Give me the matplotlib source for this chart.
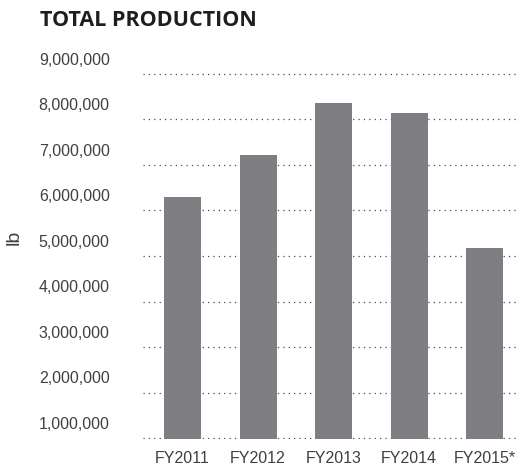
import matplotlib
matplotlib.use("Agg")
import matplotlib.pyplot as plt

categories = ["FY2011", "FY2012", "FY2013", "FY2014", "FY2015*"]
values = [5970000, 6890000, 8030000, 7810000, 4850000]
tick_values = [1000000, 2000000, 3000000, 4000000, 5000000,
               6000000, 7000000, 8000000, 9000000]
tick_labels = ["1,000,000", "2,000,000", "3,000,000", "4,000,000", "5,000,000",
               "6,000,000", "7,000,000", "8,000,000", "9,000,000"]

BAR_COLOR = "#7f7f83"
TEXT_COLOR = "#404040"
GRID_OFFSET = 330000  # gridlines sit slightly below the label positions

W, H = 520, 467
fig = plt.figure(figsize=(W / 100, H / 100), dpi=100)

ymin, ymax = 650000, 9150000
px_per_unit = 45.5 / 1e6
ax_bottom_px = 438 + (670000 - ymin) * px_per_unit
ax_top_px = ax_bottom_px - (ymax - ymin) * px_per_unit
ax = fig.add_axes([143 / W, (H - ax_bottom_px) / H, (517 - 143) / W,
                   (ax_bottom_px - ax_top_px) / H])

x = list(range(len(categories)))
for t in tick_values:
    ax.axhline(t - GRID_OFFSET, color="#4a4a4a", lw=0.9,
               dashes=(1, 3.3), zorder=1)
ax.bar(x, values, width=0.49, color=BAR_COLOR, zorder=2)

ax.set_xlim(-0.523, 4.43)
ax.set_ylim(ymin, ymax)
ax.set_yticks(tick_values)
ax.set_yticklabels(tick_labels)
ax.set_xticks(x)
ax.set_xticklabels(categories)
for s in ax.spines.values():
    s.set_visible(False)
ax.tick_params(axis="both", length=0, labelcolor=TEXT_COLOR)
ax.tick_params(axis="y", pad=24)
ax.tick_params(axis="x", pad=9)
for lab in ax.get_yticklabels() + ax.get_xticklabels():
    lab.set_fontfamily("Liberation Sans")
    lab.set_fontsize(11.5)

fig.text(40 / W, 1 - 21 / H, "TOTAL PRODUCTION", fontsize=15.5,
         fontweight="bold", family="Open Sans", color="#1e1e1e",
         ha="left", va="center")
fig.text(14 / W, 1 - 237 / H, "lb", rotation=90, fontsize=14,
         family="Liberation Sans", color=TEXT_COLOR, ha="center", va="center")

fig.savefig("out.png", dpi=100)
